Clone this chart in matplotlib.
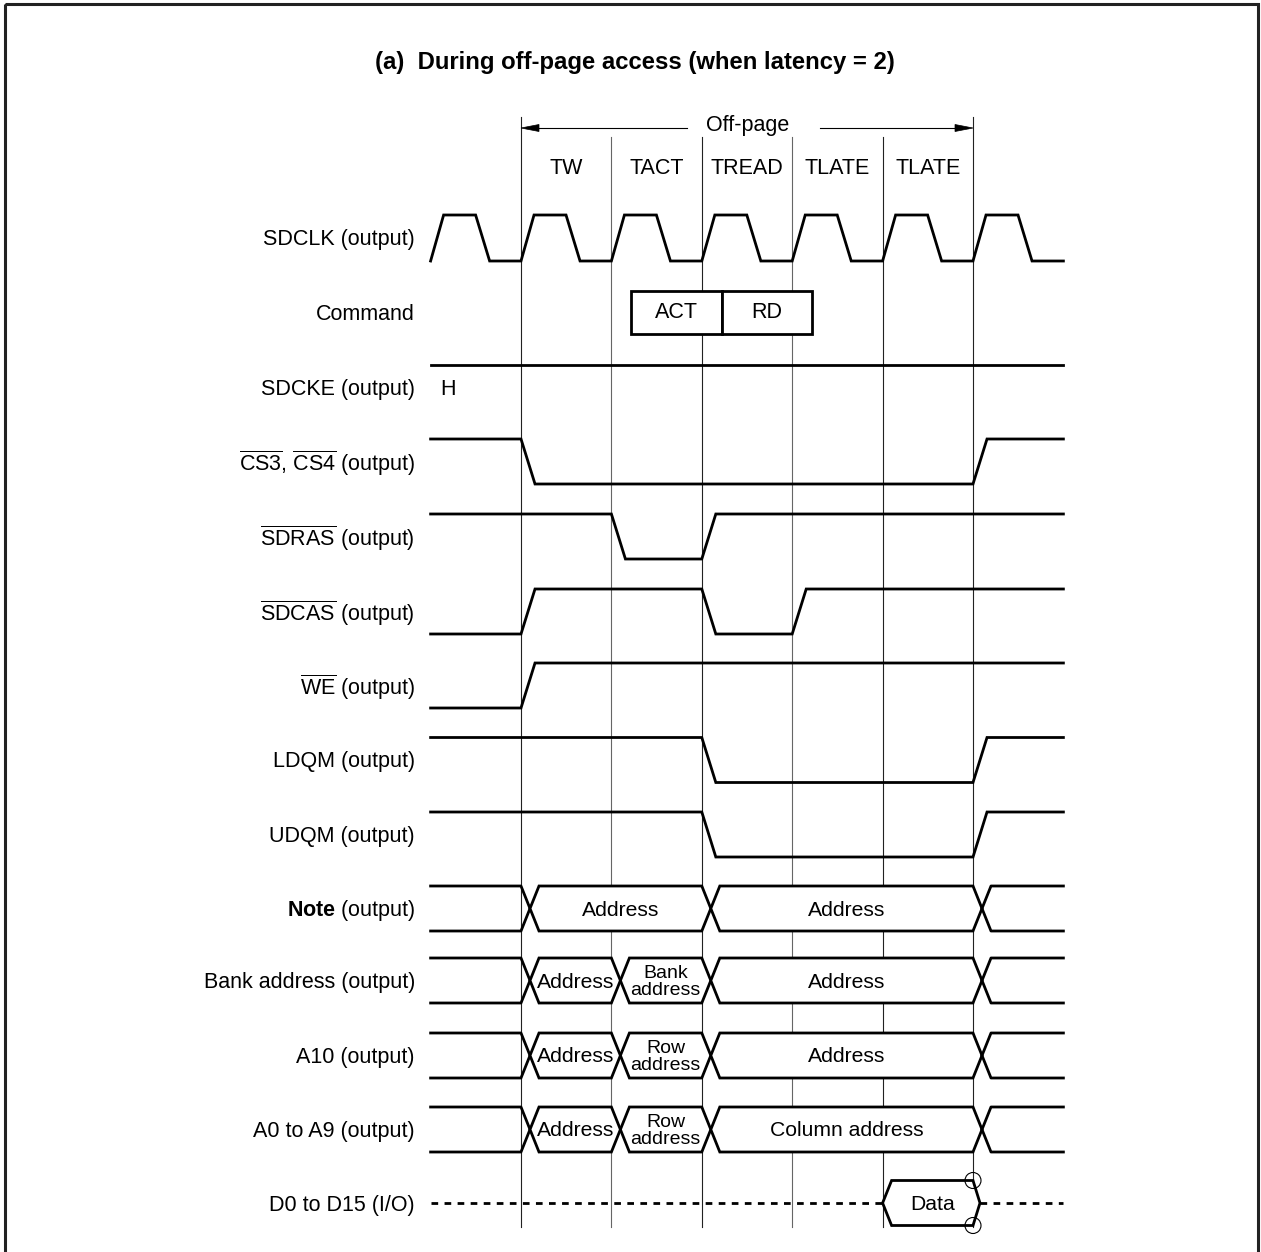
import matplotlib
matplotlib.use("Agg")
import matplotlib.pyplot as plt
from matplotlib.patches import Polygon, Rectangle, Circle

plt.rcParams["font.family"] = ["Liberation Sans", "DejaVu Sans"]
plt.rcParams["mathtext.fontset"] = "custom"
plt.rcParams["mathtext.rm"] = "Liberation Sans"
plt.rcParams["mathtext.it"] = "Liberation Sans:italic"
plt.rcParams["mathtext.bf"] = "Liberation Sans:bold"

# ---------------- data ----------------
title = "(a)  During off-page access (when latency = 2)"
span_label = "Off-page"
period_labels = ["TW", "TACT", "TREAD", "TLATE", "TLATE"]
signal_labels = [
    "SDCLK (output)", "Command", "SDCKE (output)",
    r"$\overline{\mathrm{CS3}}$, $\overline{\mathrm{CS4}}$ (output)",
    r"$\overline{\mathrm{SDRAS}}$ (output)",
    r"$\overline{\mathrm{SDCAS}}$ (output)",
    r"$\overline{\mathrm{WE}}$ (output)",
    "LDQM (output)", "UDQM (output)",
    r"$\mathbf{Note}$ (output)",
    "Bank address (output)", "A10 (output)", "A0 to A9 (output)",
    "D0 to D15 (I/O)",
]
row_centers = [238, 312, 387.5, 461.5, 536.5, 611.5, 685.5, 760, 834.5,
               908.5, 980.5, 1055.5, 1129.5, 1203]
clock_cycles = [-1, 0, 1, 2, 3, 4, 5]
commands = ["ACT", "RD"]
command_start = 1.22
sdcke_text = "H"
# digital signals: initial level, list of (cycle, new level)
cs_init, cs_events = 1, [(0, 0), (5, 1)]
ras_init, ras_events = 1, [(1, 0), (2, 1)]
cas_init, cas_events = 0, [(0, 1), (2, 0), (3, 1)]
we_init, we_events = 0, [(0, 1)]
ldqm_init, ldqm_events = 1, [(2, 0), (5, 1)]
udqm_init, udqm_events = 1, [(2, 0), (5, 1)]
# buses: transition cycles, segment labels
note_times, note_texts = [0, 2, 5], ["Address", "Address"]
bank_times, bank_texts = [0, 1, 2, 5], ["Address", "Bank\naddress", "Address"]
a10_times, a10_texts = [0, 1, 2, 5], ["Address", "Row\naddress", "Address"]
a09_times, a09_texts = [0, 1, 2, 5], ["Address", "Row\naddress", "Column address"]
data_start, data_end, data_text = 4, 5, "Data"

# ---------------- geometry ----------------
W, H = 1261, 1252
fig = plt.figure(figsize=(12.61, 12.52), dpi=100)
ax = fig.add_axes([0, 0, 1, 1])
ax.set_xlim(0, W)
ax.set_ylim(H, 0)
ax.axis("off")

X0, P = 521, 90.4
T_START, T_END = -1, 6.0
HALF = 22.5
LW = 2.0
FS = 15.5


def X(t):
    return X0 + P * t


# frame
ax.add_patch(Rectangle((5, 4), 1253, 1300, fill=False, lw=2.2, ec="#222222", zorder=5))

# title
ax.text(635, 63, title, ha="center", va="center", fontsize=17.2, fontweight="bold")

# vertical cycle lines
for t in range(0, 6):
    top = 117 if t in (0, 5) else 137
    col = "#222222" if t in (0, 2, 4, 5) else "#666666"
    ax.plot([X(t), X(t)], [top, 1227], color=col, lw=0.8, zorder=1)

# Off-page arrow
ay = 128
tx = (X(0) + X(5)) / 2 + 1
ax.text(tx, ay - 2, span_label, ha="center", va="center", fontsize=FS)
ax.plot([X(0) + 5, tx - 61], [ay, ay], color="black", lw=0.8)
ax.plot([tx + 72, X(5) - 5], [ay, ay], color="black", lw=0.8)
ax.add_patch(Polygon([(X(0), ay), (X(0) + 18, ay - 3.5), (X(0) + 18, ay + 3.5)],
                     closed=True, fc="black", ec="black", lw=0.5))
ax.add_patch(Polygon([(X(5), ay), (X(5) - 18, ay - 3.5), (X(5) - 18, ay + 3.5)],
                     closed=True, fc="black", ec="black", lw=0.5))

# period labels
for i, lab in enumerate(period_labels):
    ax.text(X(i + 0.5), 169, lab, ha="center", va="center", fontsize=FS)

# signal labels
for lab, c in zip(signal_labels, row_centers):
    ax.text(415, c + 2, lab, ha="right", va="center", fontsize=FS)

# clock
c = row_centers[0]
hi, lo = c - 23, c + 23
xs, ys = [], []
for k in clock_cycles:
    xs += [X(k), X(k + 0.144), X(k + 0.498), X(k + 0.653)]
    ys += [lo, hi, hi, lo]
xs.append(X(T_END))
ys.append(lo)
ax.plot(xs, ys, color="black", lw=LW, zorder=3, solid_joinstyle="miter")

# command boxes
c = row_centers[1]
for i, cmd in enumerate(commands):
    x0 = X(command_start + i)
    ax.add_patch(Rectangle((x0, c - 21.5), P, 43, fc="white", ec="black", lw=LW, zorder=3))
    ax.text(x0 + P / 2, c, cmd, ha="center", va="center", fontsize=FS, zorder=4)

# SDCKE
c = row_centers[2]
ax.plot([X(T_START), X(T_END)], [c - HALF, c - HALF], color="black", lw=LW, zorder=3)
ax.text(448, c + 2, sdcke_text, ha="center", va="center", fontsize=FS)


def digital(c, init, events, edge=0.155):
    lvl = {1: c - HALF, 0: c + HALF}
    xs, ys = [X(T_START)], [lvl[init]]
    cur = init
    for t, new in events:
        xs += [X(t), X(t + edge)]
        ys += [lvl[cur], lvl[new]]
        cur = new
    xs.append(X(T_END))
    ys.append(lvl[cur])
    ax.plot(xs, ys, color="black", lw=LW, zorder=3, solid_joinstyle="miter")


digital(row_centers[3], cs_init, cs_events)
digital(row_centers[4], ras_init, ras_events)
digital(row_centers[5], cas_init, cas_events)
digital(row_centers[6], we_init, we_events)
digital(row_centers[7], ldqm_init, ldqm_events)
digital(row_centers[8], udqm_init, udqm_events)


def bus(c, times, texts, w=18):
    top, bot = c - HALF, c + HALF
    x0 = X(times[0])
    ax.plot([X(T_START), x0, x0 + w / 2], [top, top, c], color="black", lw=LW, zorder=3)
    ax.plot([X(T_START), x0, x0 + w / 2], [bot, bot, c], color="black", lw=LW, zorder=3)
    for (ta, tb), txt in zip(zip(times[:-1], times[1:]), texts):
        xa, xb = X(ta), X(tb)
        pts = [(xa + w / 2, c), (xa + w, top), (xb, top), (xb + w / 2, c),
               (xb, bot), (xa + w, bot)]
        ax.add_patch(Polygon(pts, closed=True, fc="white", ec="black", lw=LW,
                             zorder=3, joinstyle="miter"))
        fs = 14 if "\n" in txt else 15.2
        ax.text((xa + w + xb) / 2, c + 1.5, txt, ha="center", va="center",
                fontsize=fs, linespacing=1.02, zorder=4)
    xl = X(times[-1])
    ax.plot([xl + w / 2, xl + w, X(T_END)], [c, top, top], color="black", lw=LW, zorder=3)
    ax.plot([xl + w / 2, xl + w, X(T_END)], [c, bot, bot], color="black", lw=LW, zorder=3)


bus(row_centers[9], note_times, note_texts)
bus(row_centers[10], bank_times, bank_texts)
bus(row_centers[11], a10_times, a10_texts)
bus(row_centers[12], a09_times, a09_texts)

# data line
c = row_centers[13]
top, bot = c - HALF, c + HALF
xa, xb = X(data_start), X(data_end)
ax.plot([X(T_START), xa], [c, c], color="black", lw=LW, dashes=(2.4, 2.3), zorder=3)
ax.plot([xb + 7, X(T_END)], [c, c], color="black", lw=LW, dashes=(2.4, 2.3), zorder=3)
ax.add_patch(Polygon([(xa, c), (xa + 9, top), (xb, top), (xb + 7, c), (xb, bot), (xa + 9, bot)],
                     closed=True, fc="white", ec="black", lw=LW, zorder=3, joinstyle="miter"))
ax.text((xa + 9 + xb) / 2, c + 1, data_text, ha="center", va="center", fontsize=15.2, zorder=4)
for yy in (top, bot):
    ax.add_patch(Circle((xb, yy), 8, fill=False, ec="black", lw=0.8, zorder=4))

fig.savefig("out.png", dpi=100)
